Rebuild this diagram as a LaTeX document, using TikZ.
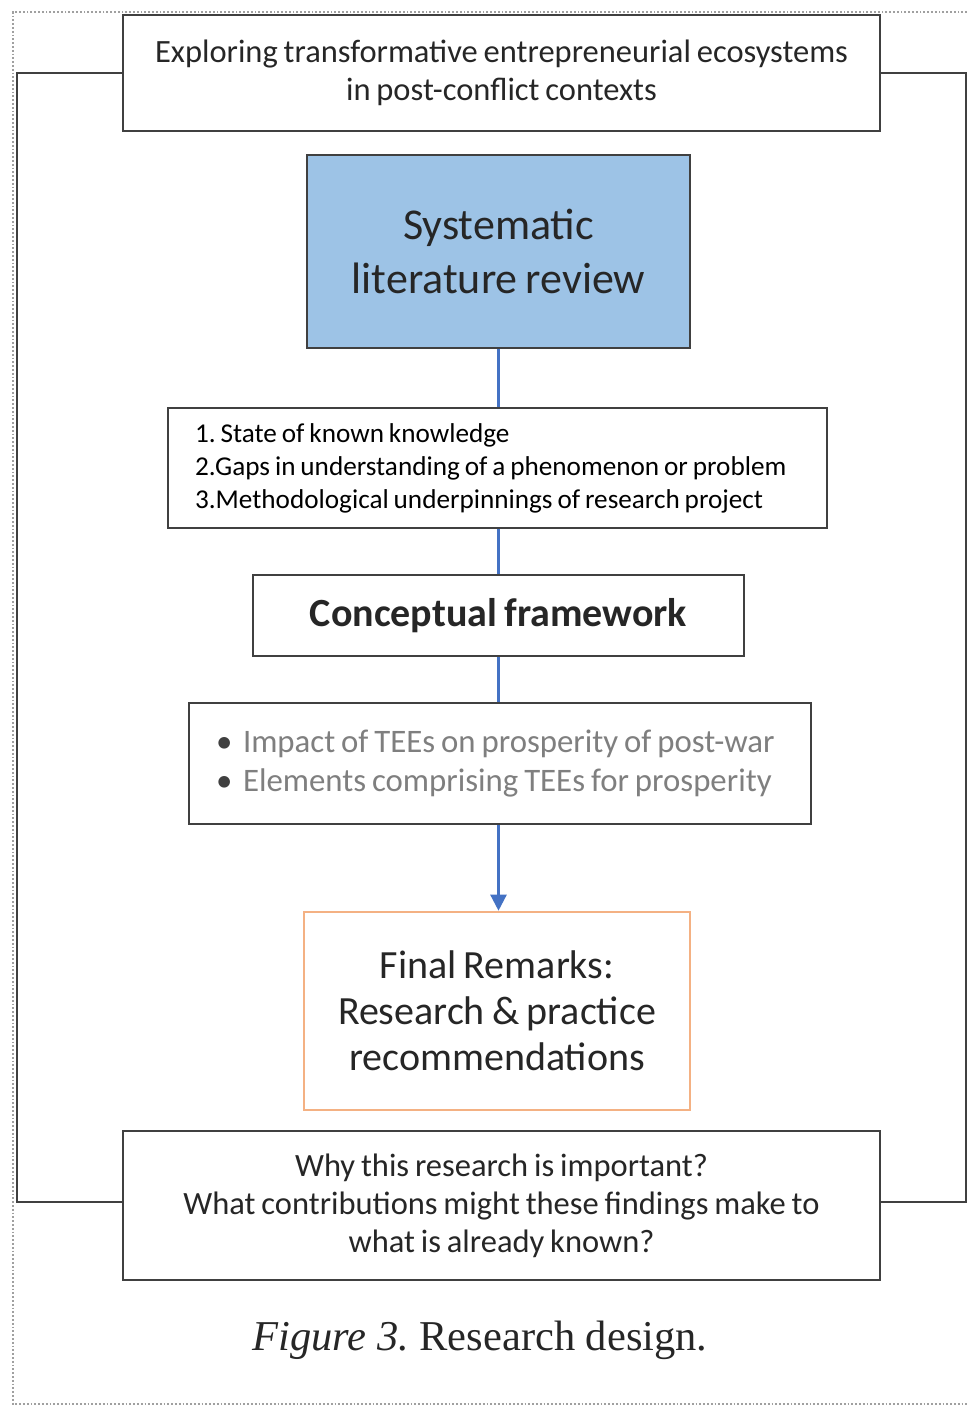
\documentclass[tikz,border=0pt]{standalone}
\usepackage{fontspec}
\setmainfont{Carlito}[WordSpace=0.8]
\newfontfamily\capfont{Liberation Serif}
\usetikzlibrary{arrows.meta}
\frenchspacing
\definecolor{boxline}{HTML}{404040}
\definecolor{txt}{HTML}{262626}
\definecolor{lightblue}{HTML}{9DC3E6}
\definecolor{linkblue}{HTML}{4472C4}
\definecolor{peach}{HTML}{F4B183}
\definecolor{softgray}{HTML}{7F7F7F}
\definecolor{dotgray}{HTML}{A0A0A0}
\tikzset{
  panel/.style={draw=boxline, line width=2.6pt, fill=white, rectangle, inner sep=0pt, align=center, text=txt},
  link/.style={draw=linkblue, line width=2.4pt},
  bracket/.style={draw=boxline, line width=2.6pt},
}
\begin{document}
\begin{tikzpicture}[x=1pt,y=-1pt]
\useasboundingbox (0,0) rectangle (967,1407);
\fill[white] (0,0) rectangle (967,1407);

% dotted frame
\coordinate (f1) at (13,12);
\coordinate (f2) at (967,12);
\coordinate (f3) at (13,1404);
\coordinate (f4) at (967,1404);
\draw[dotgray, line width=1.8pt, dotted] (f2) -- (f1) -- (f3) -- (f4);

% boxes
\node[panel, minimum width=757pt, minimum height=116pt, font=\fontsize{32.5}{38}\selectfont]
  (top) at (501.5,73) {Exploring transformative entrepreneurial ecosystems\\in post-conflict contexts};

\node[panel, fill=lightblue, minimum width=383pt, minimum height=193pt, font=\fontsize{44}{54}\selectfont]
  (slr) at (498.5,251.5) {Systematic\\literature review};

\node[panel, minimum width=659pt, minimum height=120pt, align=flush left, text width=605pt, text=black,
  font=\fontsize{27.2}{33}\selectfont]
  (list) at (497.5,468) {1. State of known knowledge\\2.Gaps in understanding of a phenomenon or problem\\3.Methodological underpinnings of research project};

\node[panel, minimum width=491pt, minimum height=81pt, font=\bfseries\fontsize{40}{44}\selectfont]
  (cf) at (498.5,615.5) {Conceptual framework};

\node[panel, minimum width=622pt, minimum height=121pt, align=flush left, text width=568pt, text=softgray,
  font=\fontsize{32.8}{39}\selectfont]
  (aims) at (500,763.5) {\makebox[27pt][l]{\textcolor{boxline}{\textbullet}}Impact of TEEs on prosperity of post-war\\\makebox[27pt][l]{\textcolor{boxline}{\textbullet}}Elements comprising TEEs for prosperity\\[-4pt]};

\node[panel, draw=peach, minimum width=386pt, minimum height=198pt, font=\fontsize{40}{46}\selectfont]
  (fin) at (497,1011) {Final Remarks:\\Research \& practice\\recommendations};

\node[panel, minimum width=757pt, minimum height=149pt, font=\fontsize{32.5}{38}\selectfont]
  (why) at (501.5,1205.5) {Why this research is important?\\What contributions might these findings make to\\what is already known?};

\node[text=txt, font=\capfont\fontsize{42.5}{46}\selectfont] (cap) at (480,1340) {\textit{Figure 3.} Research design.};

% connectors
\draw[link] (slr.south) -- (slr.south |- list.north);
\draw[link] (slr.south |- list.south) -- (slr.south |- cf.north);
\draw[link] (slr.south |- cf.south) -- (slr.south |- aims.north);
\draw[link, -{Triangle[length=16pt,width=16pt]}] (slr.south |- aims.south) -- (slr.south |- fin.north);

% bracket joining the opening and closing boxes
\coordinate (tl) at (17,73);
\coordinate (tr) at (966,73);
\coordinate (bl) at (17,1202);
\coordinate (br) at (966,1202);
\draw[bracket] (top.west |- tl) -- (tl) -- (bl) -- (bl -| why.west);
\draw[bracket] (top.east |- tr) -- (tr) -- (br) -- (br -| why.east);
\end{tikzpicture}
\end{document}
